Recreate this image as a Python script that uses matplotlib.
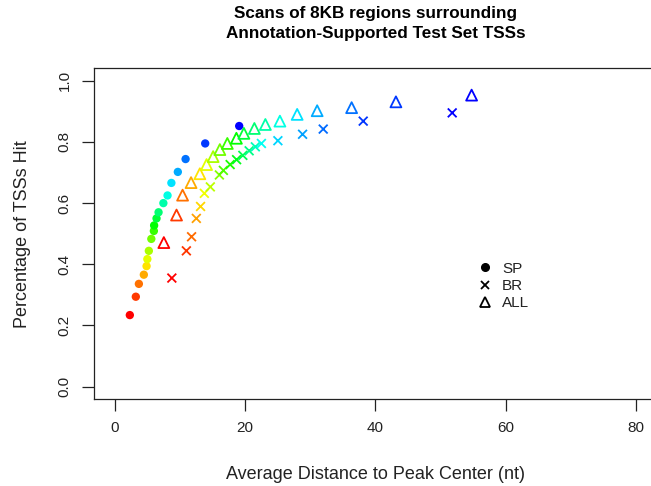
import numpy as np
import matplotlib
matplotlib.use("Agg")
import matplotlib.pyplot as plt
from matplotlib.colors import hsv_to_rgb
from matplotlib.lines import Line2D

plt.rcParams['font.family'] = ['Liberation Sans', 'DejaVu Sans']

# SP series (filled circles)
sp_x = [2.30, 3.22, 3.69, 4.45, 4.87, 4.99, 5.22, 5.60, 5.99, 6.03,
        6.40, 6.71, 7.45, 8.09, 8.68, 9.67, 10.86, 13.87, 19.09]
sp_y = [0.234, 0.294, 0.336, 0.366, 0.394, 0.417, 0.444, 0.483, 0.509, 0.527,
        0.550, 0.570, 0.600, 0.625, 0.666, 0.702, 0.744, 0.795, 0.852]

# BR series (crosses)
br_x = [8.75, 10.98, 11.78, 12.51, 13.16, 13.74, 14.66, 16.05, 16.66, 17.70,
        18.69, 19.65, 20.62, 21.57, 22.50, 25.03, 28.82, 31.99, 38.13, 51.79]
br_y = [0.355, 0.444, 0.490, 0.550, 0.589, 0.632, 0.653, 0.692, 0.707, 0.726,
        0.742, 0.756, 0.771, 0.784, 0.795, 0.804, 0.825, 0.842, 0.868, 0.895]

# ALL series (open triangles)
all_x = [7.52, 9.47, 10.40, 11.70, 13.05, 14.08, 15.09, 16.12, 17.27, 18.66,
         19.81, 21.42, 23.11, 25.34, 27.99, 31.06, 36.35, 43.15, 54.77]
all_y = [0.471, 0.561, 0.626, 0.667, 0.696, 0.726, 0.752, 0.775, 0.795, 0.812,
         0.828, 0.844, 0.857, 0.868, 0.890, 0.902, 0.912, 0.931, 0.953]

x_ticks = [0, 20, 40, 60, 80]
y_ticks = [0.0, 0.2, 0.4, 0.6, 0.8, 1.0]


def rainbow(n):
    # red -> blue, like R's rainbow() with end at blue
    h = np.linspace(0, 0.667, n)
    hsv = np.stack([h, np.ones(n), np.ones(n)], axis=1)
    return hsv_to_rgb(hsv)


W, H = 651, 486
fig = plt.figure(figsize=(W / 100, H / 100), dpi=100)
# right edge of the box falls just outside the picture, as in the reference
ax = fig.add_axes([94 / W, (H - 398.9) / H, (656.8 - 94) / W, (398.9 - 68.5) / H])

ax.scatter(sp_x, sp_y, s=36, c=rainbow(len(sp_x)), marker='o', linewidths=0)
ax.scatter(br_x, br_y, s=40, c=rainbow(len(br_x)), marker='x', linewidths=1.3)
ax.scatter(all_x, all_y, s=62, facecolors='none', edgecolors=rainbow(len(all_x)),
           marker='^', linewidths=1.3)

ax.set_xlim(-3.2, 83.2)
ax.set_ylim(-0.04, 1.04)
ax.set_xticks(x_ticks)
ax.set_yticks(y_ticks)
ax.set_xticklabels([str(v) for v in x_ticks])
ax.set_yticklabels([f"{v:.1f}" for v in y_ticks], rotation=90, va='center')
ax.tick_params(length=8.5, width=0.9, pad=7.5, labelsize=11, color='#222222',
               labelcolor='#222222')
for sp in ax.spines.values():
    sp.set_linewidth(0.9)
    sp.set_color('#222222')

ax.set_xlabel("Average Distance to Peak Center (nt)", fontsize=13, labelpad=22,
              color='#222222')
ax.set_ylabel("Percentage of TSSs Hit", fontsize=13, labelpad=19, color='#222222')

fig.text(375.5 / W, 1 - 6 / H,
         "Scans of 8KB regions surrounding\nAnnotation-Supported Test Set TSSs",
         ha='center', va='top', fontsize=12.3, fontweight='bold', linespacing=1.42)

handles = [
    Line2D([], [], marker='o', linestyle='none', color='black', markersize=5.5),
    Line2D([], [], marker='x', linestyle='none', color='black', markersize=6,
           markeredgewidth=1.3),
    Line2D([], [], marker='^', linestyle='none', markerfacecolor='none',
           markeredgecolor='black', markersize=7, markeredgewidth=1.3),
]
ax.legend(handles, ["SP", "BR", "ALL"], loc='center left',
          bbox_to_anchor=(477.7 / W, (H - 286) / H), bbox_transform=fig.transFigure,
          frameon=False, fontsize=11, handlelength=1.0, handletextpad=0.6,
          borderpad=0, borderaxespad=0, labelspacing=0.22, labelcolor='#222222')

fig.savefig("out.png", dpi=100)
